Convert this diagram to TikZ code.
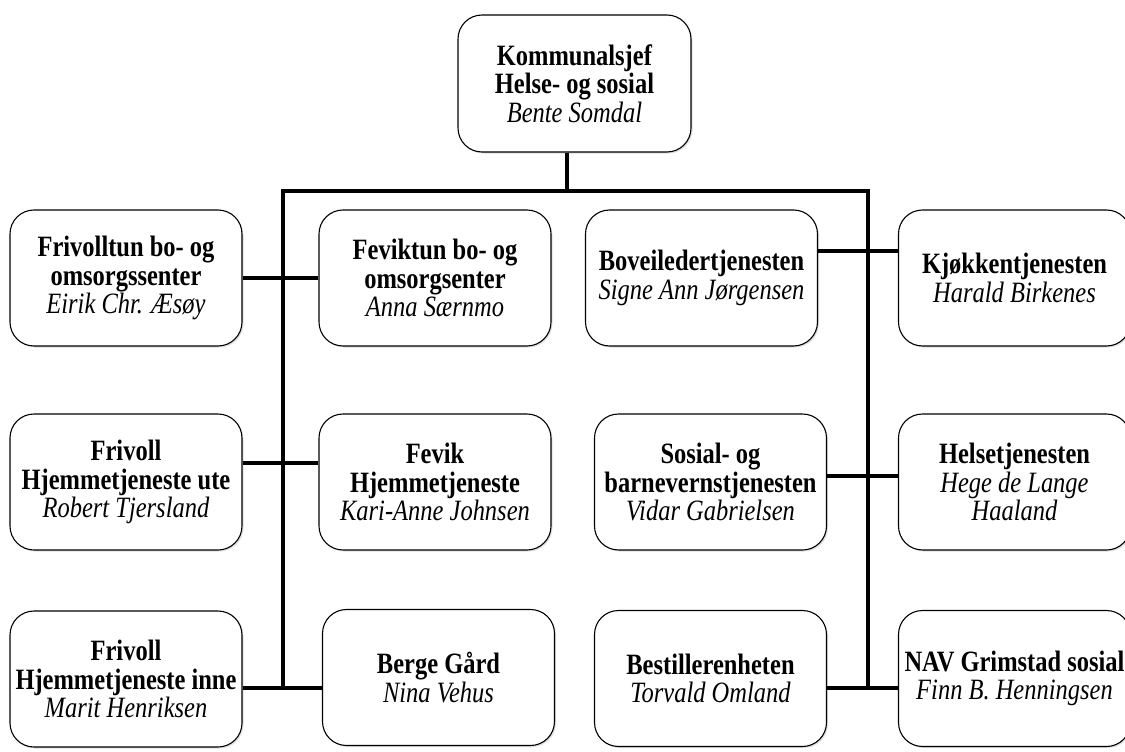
\documentclass[tikz,border=0pt]{standalone}
\usepackage{fontspec}
\setmainfont{Liberation Serif}[FakeStretch=0.83]
\usetikzlibrary{shadows}
\tikzset{
  unit/.style={draw, fill=white, rounded corners=24pt, line width=1.1pt,
    minimum width=232pt, minimum height=136pt, align=center, inner sep=2pt,
    font=\fontsize{29.5}{28.5}\selectfont,
    drop shadow={shadow xshift=1.5pt, shadow yshift=-1.5pt, opacity=0.25}},
  conn/.style={draw, line width=3.3pt, line join=miter}
}
\newcommand{\ttl}[1]{\textbf{#1}}
\newcommand{\who}[1]{\textit{#1}}
\begin{document}
\begin{tikzpicture}[x=1pt,y=-1pt]
\useasboundingbox (0,0) rectangle (1125,752);
% nodes
\node[unit, minimum width=233pt, minimum height=137pt] (top) at (574.5,83.5) {\ttl{Kommunalsjef}\\\ttl{Helse- og sosial}\\\who{Bente Somdal}};
\node[unit] (a1) at (126,278) {\ttl{Frivolltun bo- og}\\\ttl{omsorgssenter}\\\who{Eirik Chr. Æsøy}};
\node[unit] (b1) at (435,278) {\ttl{Feviktun bo- og}\\\ttl{omsorgsenter}\\\who{Anna Særnmo}};
\node[unit] (c1) at (701.5,278) {\ttl{Boveiledertjenesten}\\\who{Signe Ann Jørgensen}};
\node[unit] (d1) at (1014.5,278) {\ttl{Kjøkkentjenesten}\\\who{Harald Birkenes}};
\node[unit] (a2) at (126,482) {\ttl{Frivoll}\\\ttl{Hjemmetjeneste ute}\\\who{Robert Tjersland}};
\node[unit] (b2) at (435,482) {\ttl{Fevik}\\\ttl{Hjemmetjeneste}\\\who{Kari-Anne Johnsen}};
\node[unit] (c2) at (710.5,482) {\ttl{Sosial- og}\\\ttl{barnevernstjenesten}\\\who{Vidar Gabrielsen}};
\node[unit] (d2) at (1014.5,482) {\ttl{Helsetjenesten}\\\who{Hege de Lange}\\\who{Haaland}};
\node[unit] (a3) at (126,679) {\ttl{Frivoll}\\\ttl{Hjemmetjeneste inne}\\\who{Marit Henriksen}};
\node[unit] (b3) at (438.5,677.5) {\ttl{Berge Gård}\\\who{Nina Vehus}};
\node[unit] (c3) at (710.5,678.5) {\ttl{Bestillerenheten}\\\who{Torvald Omland}};
\node[unit] (d3) at (1014.5,678.5) {\ttl{NAV Grimstad sosial}\\\who{Finn B. Henningsen}};
% bus coordinates
\coordinate (busL) at (283,191);
\coordinate (busR) at (868,191);
\coordinate (endL) at (283,688);
\coordinate (endR) at (868,688);
\coordinate (r1L) at (0,278);
\coordinate (r1R) at (0,251);
\coordinate (r2L) at (0,463);
\coordinate (r2R) at (0,476);
\coordinate (r3L) at (0,688);
\coordinate (r3R) at (0,688);
% connectors
\draw[conn] ([xshift=-7.5pt]top.south) -- ([xshift=-7.5pt]top.south |- busL);
\draw[conn] (endL) -- (busL) -- (busR) -- (endR);
\draw[conn] (a1.east |- r1L) -- (b1.west |- r1L);
\draw[conn] (c1.east |- r1R) -- (d1.west |- r1R);
\draw[conn] (a2.east |- r2L) -- (b2.west |- r2L);
\draw[conn] (c2.east |- r2R) -- (d2.west |- r2R);
\draw[conn] (a3.east |- r3L) -- (b3.west |- r3L);
\draw[conn] (c3.east |- r3R) -- (d3.west |- r3R);
\end{tikzpicture}
\end{document}
